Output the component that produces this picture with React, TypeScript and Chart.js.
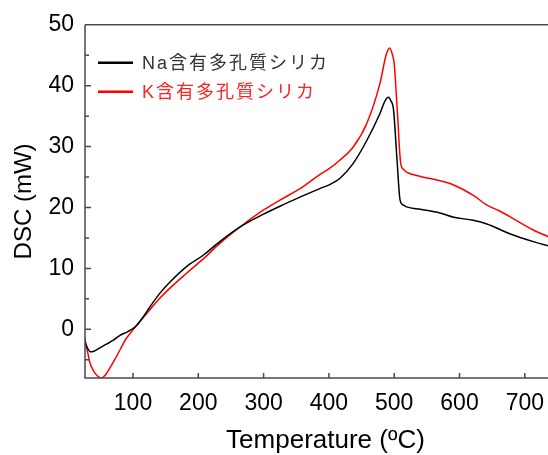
import React, { useEffect, useRef } from "react";
import { Chart, registerables } from "chart.js";

Chart.register(...registerables);

const seriesLabels = ["Na含有多孔質シリカ", "K含有多孔質シリカ"];
const seriesColors = ["#000000", "#ff0000"];
const legendTextColors = ["#333333", "#ff2020"];
const xTitle = "Temperature (ºC)";
const yTitle = "DSC (mW)";

const naTemp = [26, 30, 35, 40, 50, 60, 70, 80, 90, 95, 100, 106, 116, 126, 141, 157, 182, 208, 233, 264, 300, 325, 360, 386, 402, 417, 437, 458, 478, 486, 491, 495, 499, 504, 509, 514, 519, 540, 570, 591, 621, 642, 677, 713, 736];
const naDsc = [-2.0, -3.0, -3.7, -3.6, -3.0, -2.4, -1.8, -1.0, -0.5, -0.2, 0.1, 0.7, 2.1, 3.7, 5.9, 7.8, 10.3, 12.2, 14.4, 16.8, 18.9, 20.2, 21.9, 23.1, 23.8, 24.8, 27.2, 31.0, 35.4, 37.5, 38.1, 37.5, 36.0, 28.3, 21.2, 20.4, 20.1, 19.7, 19.1, 18.4, 17.9, 17.3, 15.7, 14.4, 13.7];

const kTemp = [26, 28, 31, 34, 40, 46, 51, 57, 65, 72, 80, 88, 100, 111, 121, 141, 162, 182, 208, 233, 264, 300, 325, 360, 386, 402, 417, 437, 458, 478, 488, 493, 497, 500, 505, 510, 515, 519, 540, 570, 591, 621, 642, 660, 677, 713, 736];
const kDsc = [-1.2, -2.5, -4.0, -5.5, -6.9, -7.7, -8.0, -7.6, -6.3, -5.0, -3.4, -1.8, -0.1, 1.3, 2.6, 5.1, 7.3, 9.2, 11.6, 14.1, 16.8, 19.6, 21.2, 23.4, 25.4, 26.5, 27.8, 29.9, 33.8, 40.3, 45.2, 46.2, 45.2, 43.6, 35.4, 27.2, 26.2, 25.8, 25.1, 24.4, 23.7, 22.0, 20.4, 19.5, 18.5, 16.3, 15.2];

const xTickValues = [100, 200, 300, 400, 500, 600, 700];
const yMajorTicks = [0, 10, 20, 30, 40, 50];
const yMinorTicks = [-5, 5, 15, 25, 35, 45];

const xMin = 26.5;
const xMax = 735.5;
const yMin = -8;
const yMax = 50;

const AXIS_COLOR = "#4a4a4a";
const FONT_FAMILY = '"Liberation Sans", Arial, sans-serif';

const framePlugin = {
  id: "frame",
  afterDraw(chart: any) {
    const ctx = chart.ctx;
    const { left, right, top, bottom } = chart.chartArea;
    const xs = chart.scales.x;
    const ys = chart.scales.y;
    ctx.save();
    ctx.strokeStyle = AXIS_COLOR;
    ctx.lineWidth = 1.5;
    ctx.beginPath();
    ctx.moveTo(left, top);
    ctx.lineTo(right + 2, top);
    ctx.moveTo(left, top);
    ctx.lineTo(left, bottom);
    ctx.lineTo(right + 2, bottom);
    for (const v of xTickValues) {
      const p = xs.getPixelForValue(v);
      ctx.moveTo(p, bottom);
      ctx.lineTo(p, bottom - 5);
    }
    for (const v of yMajorTicks) {
      const p = ys.getPixelForValue(v);
      ctx.moveTo(left, p);
      ctx.lineTo(left + 6, p);
    }
    for (const v of yMinorTicks) {
      const p = ys.getPixelForValue(v);
      ctx.moveTo(left, p);
      ctx.lineTo(left + 4, p);
    }
    ctx.stroke();

    // x axis title
    ctx.fillStyle = "#000";
    ctx.font = `26px ${FONT_FAMILY}`;
    ctx.textAlign = "center";
    ctx.textBaseline = "middle";
    ctx.fillText(xTitle, (left + right) / 2 + 9, 441);

    // legend
    ctx.font = '18px "Liberation Sans", "Noto Sans CJK JP", sans-serif';
    try {
      (ctx as any).letterSpacing = "2px";
    } catch (e) {}
    ctx.textBaseline = "middle";
    ctx.textAlign = "left";
    chart.data.datasets.forEach((ds: any, i: number) => {
      const y = top + 38 + i * 29;
      ctx.strokeStyle = ds.borderColor;
      ctx.lineWidth = 2.5;
      ctx.beginPath();
      ctx.moveTo(left + 13, y);
      ctx.lineTo(left + 48, y);
      ctx.stroke();
      ctx.fillStyle = legendTextColors[i];
      ctx.fillText(ds.label, left + 57, y + 1);
    });
    ctx.restore();
  },
};

export default function App() {
  const canvasRef = useRef<HTMLCanvasElement | null>(null);

  useEffect(() => {
    const canvas = canvasRef.current;
    if (!canvas) return;
    const tickFont = { family: FONT_FAMILY, size: 23 };
    const chart = new Chart(canvas, {
      type: "line",
      data: {
        datasets: [
          {
            label: seriesLabels[0],
            data: naTemp.map((t, i) => ({ x: t, y: naDsc[i] })),
            borderColor: seriesColors[0],
            borderWidth: 1.5,
            pointRadius: 0,
            cubicInterpolationMode: "monotone",
          },
          {
            label: seriesLabels[1],
            data: kTemp.map((t, i) => ({ x: t, y: kDsc[i] })),
            borderColor: seriesColors[1],
            borderWidth: 1.5,
            pointRadius: 0,
            cubicInterpolationMode: "monotone",
          },
        ],
      },
      options: {
        responsive: false,
        animation: false,
        events: [],
        layout: { padding: { left: 0, top: 24, right: 0, bottom: 0 } },
        plugins: { legend: { display: false }, tooltip: { enabled: false } },
        scales: {
          x: {
            type: "linear",
            min: xMin,
            max: xMax,
            grid: { display: false, drawTicks: false },
            border: { display: false },
            afterBuildTicks: (scale: any) => {
              scale.ticks = xTickValues.map((v) => ({ value: v }));
            },
            afterFit: (scale: any) => {
              scale.height = 77;
              scale.paddingLeft = 0;
              scale.paddingRight = 0;
            },
            ticks: { font: tickFont, color: "#000", padding: 12, maxRotation: 0, autoSkip: false },
            title: { display: false },
          },
          y: {
            type: "linear",
            min: yMin,
            max: yMax,
            grid: { display: false, drawTicks: false },
            border: { display: false },
            afterBuildTicks: (scale: any) => {
              scale.ticks = yMajorTicks.map((v) => ({ value: v }));
            },
            afterFit: (scale: any) => {
              scale.width = 85;
            },
            ticks: { font: tickFont, color: "#000", padding: 11, autoSkip: false },
            title: {
              display: true,
              text: yTitle,
              font: { family: FONT_FAMILY, size: 24 },
              color: "#000",
              padding: { top: 10, bottom: 0 },
            },
          },
        },
      },
      plugins: [framePlugin],
    } as any);
    return () => chart.destroy();
  }, []);

  return (
    <div style={{ position: "absolute", left: 0, top: 0, width: 548, height: 455, background: "#fff" }}>
      <canvas ref={canvasRef} width={548} height={455} style={{ display: "block" }} />
    </div>
  );
}
